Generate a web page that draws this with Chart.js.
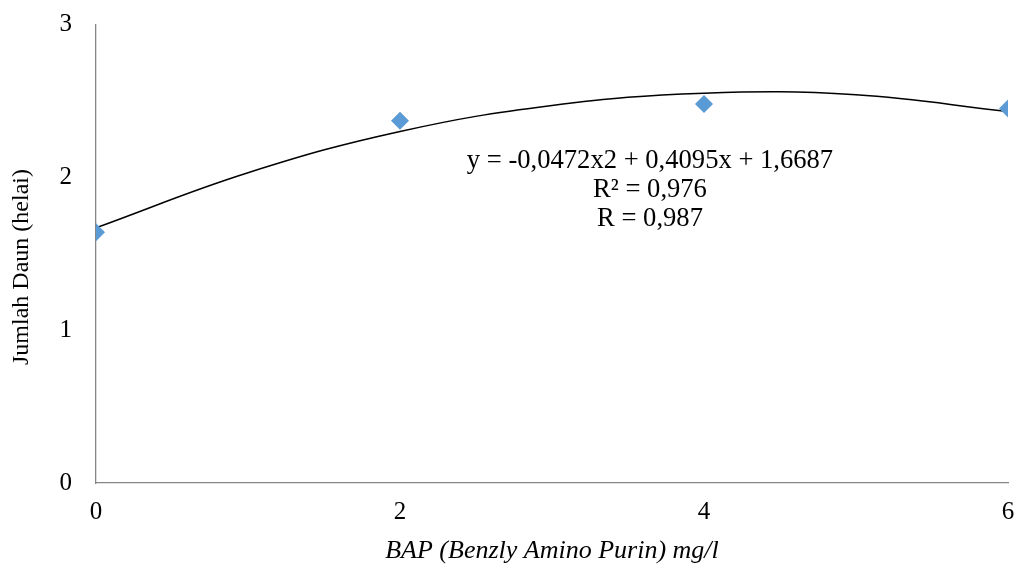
<!DOCTYPE html>
<html>
<head>
<meta charset="utf-8">
<script src="https://cdn.jsdelivr.net/npm/chart.js@4"></script>
<style>
  html, body { margin: 0; padding: 0; background: #fff; }
  #wrap { width: 1017px; height: 564px; }
</style>
</head>
<body>
<div id="wrap"><canvas id="chart"></canvas></div>
<script>
// observed data (BAP dose vs leaf count)
const doses = [0, 2, 4, 6];
const leaves = [1.64, 2.37, 2.48, 2.45];

// trendline
const trendX = [0, 1, 2, 3, 4, 5, 6];
const trendY = [1.67, 2.03, 2.30, 2.47, 2.55, 2.54, 2.43];

const yTicks = [0, 1, 2, 3];
const xTicks = [0, 2, 4, 6];

const eqLines = ['y = -0,0472x2 + 0,4095x + 1,6687', 'R² = 0,976', 'R = 0,987'];
const yTitle = 'Jumlah Daun (helai)';

const serif = '"Liberation Serif", "Times New Roman", serif';

// --- equation label + y title (sits a bit below the axis middle) ---
const extraText = {
  id: 'extraText',
  afterDatasetsDraw(chart) {
    const ctx = chart.ctx;
    ctx.save();
    ctx.fillStyle = '#000';
    ctx.textAlign = 'center';
    ctx.textBaseline = 'middle';
    ctx.font = '26.6px ' + serif;
    eqLines.forEach((t, i) => ctx.fillText(t, 650, 161 + i * 29));

    ctx.font = '24px ' + serif;
    ctx.translate(22, 267);
    ctx.rotate(-Math.PI / 2);
    ctx.fillText(yTitle, 0, 0);
    ctx.restore();
  }
};

new Chart(document.getElementById('chart'), {
  type: 'scatter',
  data: {
    datasets: [
      {
        label: 'Jumlah Daun',
        data: doses.map((x, i) => ({ x, y: leaves[i] })),
        pointStyle: 'rectRot',
        pointRadius: 9,
        pointHoverRadius: 9,
        backgroundColor: '#5B9BD5',
        borderColor: '#5B9BD5',
        borderWidth: 0,
        order: 1
      },
      {
        label: 'Trend',
        data: trendX.map((x, i) => ({ x, y: trendY[i] })),
        showLine: true,
        pointRadius: 0,
        borderColor: '#000',
        borderWidth: 1.5,
        tension: 0.4,
        order: 2
      }
    ]
  },
  options: {
    responsive: true,
    maintainAspectRatio: false,
    animation: false,
    layout: { padding: { top: 24.5, right: 6, left: 0, bottom: 0 } },
    plugins: {
      legend: { display: false },
      tooltip: { enabled: false }
    },
    scales: {
      x: {
        type: 'linear',
        min: 0, max: 6,
        afterBuildTicks: s => { s.ticks = xTicks.map(v => ({ value: v })); },
        afterFit: s => { s.height = 81; s.paddingLeft = 0; s.paddingRight = 0; },
        grid: { display: false, drawTicks: false },
        border: { display: true, color: '#868686', width: 1.3 },
        ticks: { color: '#000', font: { family: serif, size: 25 }, padding: 14 },
        title: {
          display: true,
          text: 'BAP (Benzly Amino Purin) mg/l',
          color: '#000',
          font: { family: serif, size: 26, style: 'italic', lineHeight: 1 },
          padding: { top: 0, bottom: 0 }
        }
      },
      y: {
        type: 'linear',
        min: 0, max: 3,
        afterBuildTicks: s => { s.ticks = yTicks.map(v => ({ value: v })); },
        afterFit: s => { s.width = 96; s.paddingTop = 0; s.paddingBottom = 0; },
        grid: { display: false, drawTicks: false },
        border: { display: true, color: '#868686', width: 1.3 },
        ticks: { color: '#000', font: { family: serif, size: 25 }, padding: 24 },
        title: { display: false }
      }
    }
  },
  plugins: [extraText]
});
</script>
</body>
</html>
